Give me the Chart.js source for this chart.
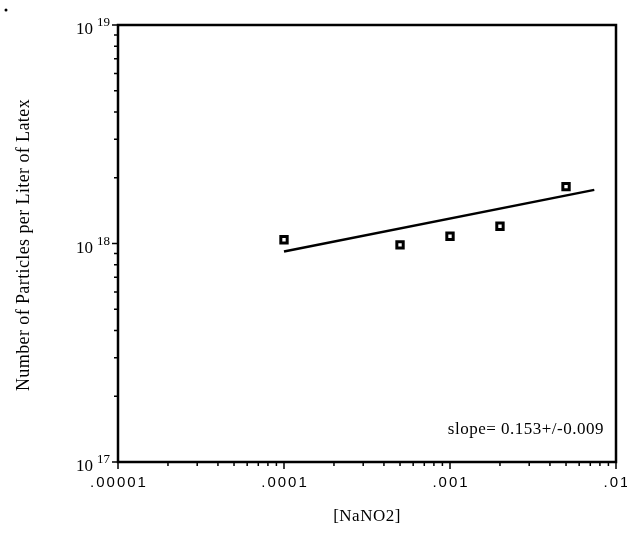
<!DOCTYPE html>
<html>
<head>
<meta charset="utf-8">
<script src="https://cdn.jsdelivr.net/npm/chart.js@4.4.1/dist/chart.umd.min.js"></script>
<style>
  html, body { margin: 0; padding: 0; background: #fff; }
  #wrap { width: 627px; height: 537px; }
</style>
</head>
<body>
<div id="wrap"><canvas id="grafico"></canvas></div>
<script>
// measured points
const concentracao = [0.0001, 0.0005, 0.001, 0.002, 0.005];
const particulas = [1.04e18, 0.985e18, 1.08e18, 1.20e18, 1.82e18];

// fitted line ends (slope 0.153)
const ajusteX = [0.0001, 0.0074];
const ajusteY = [0.92e18, 1.76e18];

// axes
const xTicks = [0.00001, 0.0001, 0.001, 0.01];
const xTickLabels = ['.00001', '.0001', '.001', '.01'];
const yTicks = [1e17, 1e18, 1e19];
const yTickExp = ['17', '18', '19'];

const serif = '"Liberation Serif", "DejaVu Serif", serif';
const sans = '"Liberation Sans", Arial, sans-serif';

function minorValues(min, max) {
    const out = [];
    for (let k = Math.round(Math.log10(min)); k < Math.round(Math.log10(max)); k++) {
        for (let m = 2; m <= 9; m++) out.push(m * Math.pow(10, k));
    }
    return out;
}

const enfeites = {
    id: 'enfeites',
    afterDraw(chart) {
        const { ctx, chartArea: a, scales: { x, y } } = chart;
        ctx.save();
        ctx.strokeStyle = '#000';
        ctx.fillStyle = '#000';

        // frame
        ctx.lineWidth = 2.5;
        ctx.strokeRect(a.left, a.top, a.right - a.left, a.bottom - a.top);

        // ticks
        ctx.lineWidth = 1.5;
        ctx.beginPath();
        minorValues(x.min, x.max).forEach(v => {
            const px = x.getPixelForValue(v);
            ctx.moveTo(px, a.bottom); ctx.lineTo(px, a.bottom + 4);
        });
        xTicks.forEach(v => {
            const px = x.getPixelForValue(v);
            ctx.moveTo(px, a.bottom); ctx.lineTo(px, a.bottom + 7);
        });
        minorValues(y.min, y.max).forEach(v => {
            const py = y.getPixelForValue(v);
            ctx.moveTo(a.left, py); ctx.lineTo(a.left - 4, py);
        });
        yTicks.forEach(v => {
            const py = y.getPixelForValue(v);
            ctx.moveTo(a.left, py); ctx.lineTo(a.left - 6, py);
        });
        ctx.stroke();

        // x tick labels
        ctx.font = '15px ' + sans;
        ctx.letterSpacing = '2px';
        ctx.textAlign = 'center';
        ctx.textBaseline = 'alphabetic';
        xTicks.forEach((v, i) => {
            ctx.fillText(xTickLabels[i], x.getPixelForValue(v) + 1, a.bottom + 25);
        });
        ctx.letterSpacing = '0px';

        // y tick labels: 10 with superscript exponent
        ctx.textAlign = 'right';
        yTicks.forEach((v, i) => {
            const py = y.getPixelForValue(v);
            ctx.font = '13px ' + serif;
            ctx.fillText(yTickExp[i], a.left - 8, py + 1);
            const w = ctx.measureText(yTickExp[i]).width;
            ctx.font = '17px ' + serif;
            ctx.fillText('10', a.left - 12 - w, py + 9);
        });

        // slope note
        ctx.font = '17px ' + serif;
        ctx.letterSpacing = '0.5px';
        ctx.textAlign = 'right';
        ctx.fillText('slope= 0.153+/-0.009', a.right - 12, a.bottom - 28);

        // axis titles
        ctx.textAlign = 'center';
        ctx.fillText('[NaNO2]', (a.left + a.right) / 2, 521);
        ctx.font = '18px ' + serif;
        ctx.letterSpacing = '0.4px';
        ctx.translate(29, 245);
        ctx.rotate(-Math.PI / 2);
        ctx.fillText('Number of Particles per Liter of Latex', 0, 0);
        ctx.restore();

        // stray mark in the corner
        ctx.beginPath();
        ctx.arc(6, 10, 1.5, 0, Math.PI * 2);
        ctx.fill();
    }
};

const ctx = document.getElementById('grafico').getContext('2d');
const grafico = new Chart(ctx, {
    type: 'scatter',
    data: {
        datasets: [{
            label: 'Dados',
            data: concentracao.map((c, i) => ({ x: c, y: particulas[i] })),
            pointStyle: 'rect',
            pointRadius: 4.5,
            pointBackgroundColor: '#fff',
            pointBorderColor: '#000',
            pointBorderWidth: 3
        }, {
            label: 'Ajuste',
            data: ajusteX.map((c, i) => ({ x: c, y: ajusteY[i] })),
            showLine: true,
            borderColor: '#000',
            borderWidth: 2.5,
            pointRadius: 0
        }]
    },
    options: {
        responsive: true,
        maintainAspectRatio: false,
        animation: false,
        layout: { padding: { top: 25, right: 11, left: 0, bottom: 0 } },
        plugins: { legend: { display: false }, tooltip: { enabled: false } },
        scales: {
            x: {
                type: 'logarithmic', min: 0.00001, max: 0.01,
                ticks: { display: false }, grid: { display: false }, border: { display: false },
                afterFit: s => { s.height = 75; }
            },
            y: {
                type: 'logarithmic', min: 1e17, max: 1e19,
                ticks: { display: false }, grid: { display: false }, border: { display: false },
                afterFit: s => { s.width = 118; }
            }
        }
    },
    plugins: [enfeites]
});
</script>
</body>
</html>
